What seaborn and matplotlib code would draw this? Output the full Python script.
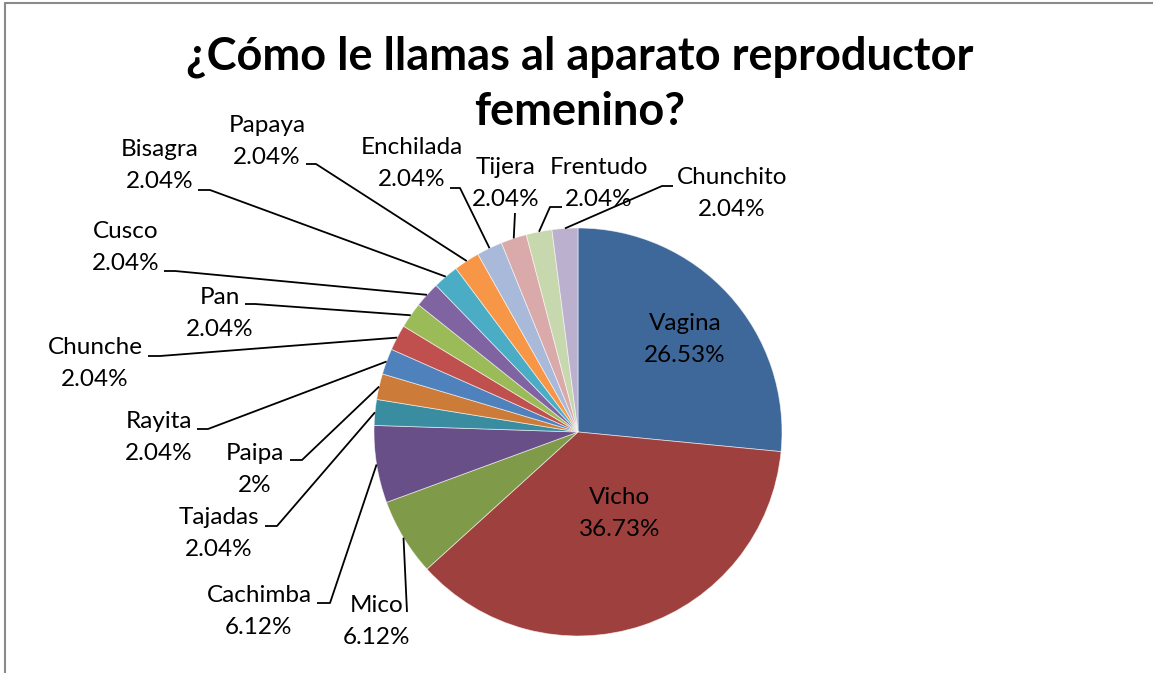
import numpy as np
import matplotlib
matplotlib.use("Agg")
import matplotlib.pyplot as plt
import seaborn as sns

# data
names = ["Vagina", "Vicho", "Mico", "Cachimba", "Tajadas", "Paipa", "Rayita",
         "Chunche", "Pan", "Cusco", "Bisagra", "Papaya", "Enchilada", "Tijera",
         "Frentudo", "Chunchito"]
percents = [26.53, 36.73, 6.12, 6.12, 2.04, 2.04, 2.04, 2.04, 2.04, 2.04,
            2.04, 2.04, 2.04, 2.04, 2.04, 2.04]
pct_text = ["26.53%", "36.73%", "6.12%", "6.12%", "2.04%", "2%", "2.04%",
            "2.04%", "2.04%", "2.04%", "2.04%", "2.04%", "2.04%", "2.04%",
            "2.04%", "2.04%"]
colors = ["#3F689A", "#9E413E", "#7F9A48", "#684F87", "#3A8CA0", "#CC7B38",
          "#4F81BD", "#C0504D", "#9BBB59", "#8064A2", "#4BACC6", "#F79646",
          "#A8B9D9", "#D9AAA9", "#C7D7AE", "#BBB0CD"]
title_lines = ["¿Cómo le llamas al aparato reproductor", "femenino?"]

W, H = 1153, 673

# label layout in pixel coords (top-left origin): name centre, leader points
label_pos = {
    "Vagina": (685, 323), "Vicho": (620, 497),
    "Mico": (377, 605), "Cachimba": (259, 596), "Tajadas": (219, 517),
    "Paipa": (255, 453), "Rayita": (159, 422), "Chunche": (95, 348),
    "Pan": (220, 297), "Cusco": (126, 232), "Bisagra": (160, 150),
    "Papaya": (267, 125), "Enchilada": (412, 148), "Tijera": (506, 167),
    "Frentudo": (599, 167), "Chunchito": (732, 178),
}
leaders = {
    "Mico": [(407, 612)], "Cachimba": [(317, 603), (330, 603)],
    "Tajadas": [(265, 526), (277, 526)], "Paipa": [(290, 460), (302, 460)],
    "Rayita": [(197, 429), (208, 429)], "Chunche": [(148, 356), (160, 356)],
    "Pan": [(245, 304), (255, 304)], "Cusco": [(164, 271), (175, 271)],
    "Bisagra": [(198, 190), (210, 190)], "Papaya": [(306, 164), (316, 164)],
    "Enchilada": [(450, 188), (460, 188)], "Tijera": [(515, 213)],
    "Frentudo": [(562, 207), (550, 207)], "Chunchito": [(673, 186), (662, 186)],
}

sns.set_theme(style="white")
plt.rcParams["font.family"] = ["Lato", "DejaVu Sans"]

fig = plt.figure(figsize=(W / 100, H / 100), dpi=100)
ax = fig.add_axes([0, 0, 1, 1])

cx, cy, R = 578, 432, 204
wedges, _ = ax.pie(percents, colors=colors, startangle=90, counterclock=False,
                   center=(cx, H - cy), radius=R,
                   wedgeprops=dict(edgecolor=(1, 1, 1, 0.6), linewidth=0.6))
ax.set_xlim(0, W)
ax.set_ylim(0, H)
ax.set_aspect("equal")
ax.axis("off")

fs = 17.5
for w, name, pt in zip(wedges, names, pct_text):
    x, y = label_pos[name]
    ax.text(x, H - y, name, ha="center", va="center", fontsize=fs, color="black")
    ax.text(x, H - y - 32, pt, ha="center", va="center", fontsize=fs, color="black")
    if name in leaders:
        mid = np.deg2rad((w.theta1 + w.theta2) / 2)
        ex, ey = cx + R * np.cos(mid), (H - cy) + R * np.sin(mid)
        pts = [(px, H - py) for px, py in leaders[name]] + [(ex, ey)]
        xs, ys = zip(*pts)
        ax.plot(xs, ys, color="black", lw=1.3, solid_capstyle="butt")

for line, ty in zip(title_lines, [57, 112]):
    ax.text(580, H - ty, line, ha="center", va="center", fontsize=32.5,
            fontweight="bold", color="black")

# chart frame (top and left edges visible)
ax.plot([5, W], [H - 3, H - 3], color="#8a8a8a", lw=1.5, clip_on=False)
ax.plot([5, 5], [H - 3, 0], color="#8a8a8a", lw=1.5, clip_on=False)

fig.savefig("out.png", dpi=100)
